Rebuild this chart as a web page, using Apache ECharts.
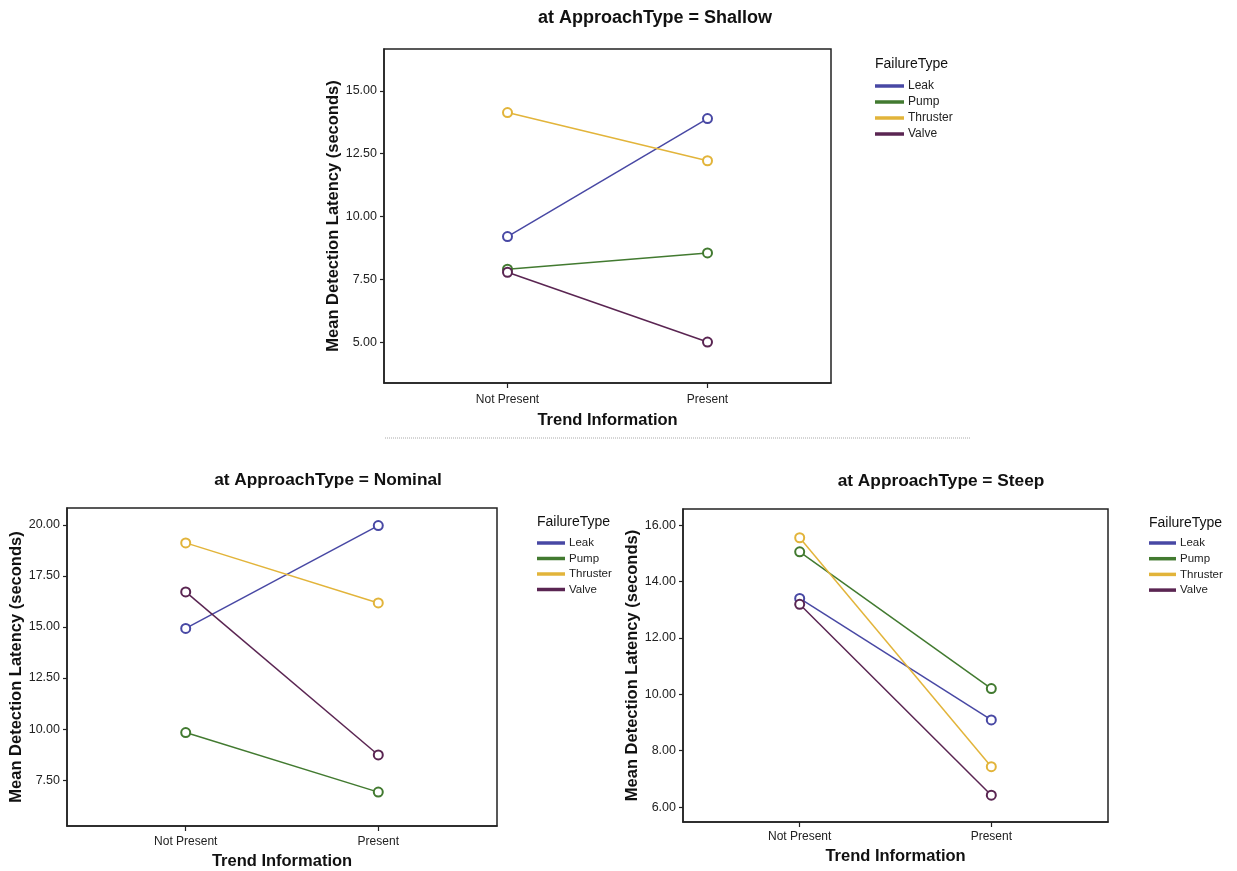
<!DOCTYPE html>
<html>
<head>
<meta charset="utf-8">
<script src="https://cdn.jsdelivr.net/npm/echarts@6/dist/echarts.min.js"></script>
<style>
html,body{margin:0;padding:0;background:#fff;}
#c{width:1237px;height:871px;}
</style>
</head>
<body>
<div id="c"></div>
<script>
const categories = ['Not Present', 'Present'];
const failureTypes = ['Leak', 'Pump', 'Thruster', 'Valve'];
const panelTitles = ['at ApproachType = Shallow', 'at ApproachType = Nominal', 'at ApproachType = Steep'];

const shallowLeak = [9.20, 13.90];
const shallowPump = [7.90, 8.55];
const shallowThruster = [14.14, 12.22];
const shallowValve = [7.78, 5.00];

const nominalLeak = [14.93, 19.97];
const nominalPump = [9.83, 6.91];
const nominalThruster = [19.12, 16.18];
const nominalValve = [16.72, 8.73];

const steepLeak = [13.40, 9.09];
const steepPump = [15.05, 10.20];
const steepThruster = [15.55, 7.43];
const steepValve = [13.19, 6.42];

const shallowTicks = [5, 7.5, 10, 12.5, 15];
const nominalTicks = [7.5, 10, 12.5, 15, 17.5, 20];
const steepTicks = [6, 8, 10, 12, 14, 16];

const FONT = '"Liberation Sans", Arial, sans-serif';
const colors = {Leak: '#4848a4', Pump: '#427a30', Thruster: '#e2b43a', Valve: '#5a2552'};

const panels = [
  {grid: {left: 384, top: 49, width: 447, height: 334}, ymin: 3.37, ymax: 16.67, ticks: shallowTicks,
   xpad: 0.6175, series: [shallowLeak, shallowPump, shallowThruster, shallowValve], labelMargin: 11, nameGap: 29},
  {grid: {left: 67, top: 508, width: 430, height: 318}, ymin: 5.25, ymax: 20.83, ticks: nominalTicks,
   xpad: 0.6165, series: [nominalLeak, nominalPump, nominalThruster, nominalValve], labelMargin: 10, nameGap: 27},
  {grid: {left: 683, top: 509, width: 425, height: 313}, ymin: 5.47, ymax: 16.57, ticks: steepTicks,
   xpad: 0.609, series: [steepLeak, steepPump, steepThruster, steepValve], labelMargin: 9, nameGap: 26}
];

const grids = [], xAxes = [], yAxes = [], series = [];
panels.forEach((p, i) => {
  grids.push(Object.assign({show: true, borderColor: '#222', borderWidth: 1.5, backgroundColor: '#fff'}, p.grid));
  xAxes.push({
    type: 'value', gridIndex: i, min: -p.xpad, max: 1 + p.xpad,
    splitLine: {show: false},
    axisLine: {show: true, onZero: false, lineStyle: {color: '#222', width: 1.5}},
    axisTick: {show: true, customValues: [0, 1], length: 5, lineStyle: {color: '#222', width: 1.2}},
    axisLabel: {customValues: [0, 1], formatter: v => categories[Math.round(v)], margin: p.labelMargin,
      color: '#222', fontSize: 12, fontFamily: FONT},
    name: 'Trend Information', nameLocation: 'middle', nameGap: p.nameGap,
    nameTextStyle: {fontSize: 16.5, fontWeight: 'bold', color: '#111', fontFamily: FONT, verticalAlign: 'top'}
  });
  yAxes.push({
    type: 'value', gridIndex: i, min: p.ymin, max: p.ymax,
    splitLine: {show: false},
    axisLine: {show: true, onZero: false, lineStyle: {color: '#222', width: 1.5}},
    axisTick: {show: true, customValues: p.ticks, length: 4, lineStyle: {color: '#222', width: 1.2}},
    axisLabel: {customValues: p.ticks, formatter: v => v.toFixed(2), margin: 7,
      color: '#222', fontSize: 12.5, fontFamily: FONT},
    name: 'Mean Detection Latency (seconds)', nameLocation: 'middle', nameGap: 42,
    nameTextStyle: {fontSize: 16.5, fontWeight: 'bold', color: '#111', fontFamily: FONT}
  });
  p.series.forEach((vals, k) => {
    const name = failureTypes[k];
    series.push({
      type: 'line', name: name, xAxisIndex: i, yAxisIndex: i,
      data: vals.map((v, j) => [j, v]),
      symbol: 'emptyCircle', symbolSize: 9,
      lineStyle: {color: colors[name], width: 1.5},
      itemStyle: {color: colors[name], borderColor: colors[name], borderWidth: 1.2},
      emphasis: {disabled: true}, animation: false
    });
  });
});

const legendBase = {
  orient: 'vertical', data: failureTypes, icon: 'rect', itemHeight: 1.5, padding: 0,
  textStyle: {color: '#222', fontFamily: FONT, lineHeight: 14},
  selectedMode: false
};
const legends = [
  Object.assign({}, legendBase, {left: 875, top: 79, itemWidth: 27, itemGap: 2, textStyle: Object.assign({}, legendBase.textStyle, {fontSize: 12})}),
  Object.assign({}, legendBase, {left: 537, top: 536, itemWidth: 26, itemGap: 1.5, textStyle: Object.assign({}, legendBase.textStyle, {fontSize: 11.5})}),
  Object.assign({}, legendBase, {left: 1149, top: 536, itemWidth: 25, itemGap: 1.7, textStyle: Object.assign({}, legendBase.textStyle, {fontSize: 11.5})})
];

const titleStyle = {fontSize: 18, fontWeight: 'bold', fill: '#111', fontFamily: FONT, textAlign: 'center', textVerticalAlign: 'middle'};
const ftStyle = {fontSize: 14, fill: '#111', fontFamily: FONT, textAlign: 'left', textVerticalAlign: 'middle'};
const graphics = [
  {type: 'text', x: 655, y: 18, style: Object.assign({text: panelTitles[0]}, titleStyle)},
  {type: 'text', x: 328, y: 480, style: Object.assign({text: panelTitles[1]}, titleStyle, {fontSize: 17.3})},
  {type: 'text', x: 941, y: 481, style: Object.assign({text: panelTitles[2]}, titleStyle, {fontSize: 17.3})},
  {type: 'text', x: 875, y: 64, style: Object.assign({text: 'FailureType'}, ftStyle)},
  {type: 'text', x: 537, y: 522, style: Object.assign({text: 'FailureType'}, ftStyle)},
  {type: 'text', x: 1149, y: 523, style: Object.assign({text: 'FailureType'}, ftStyle)},
  {type: 'line', shape: {x1: 385, y1: 438, x2: 970, y2: 438}, style: {stroke: '#aaa', lineWidth: 1, lineDash: [1, 1]}}
];

const chart = echarts.init(document.getElementById('c'), null, {renderer: 'canvas'});
chart.setOption({
  animation: false,
  backgroundColor: '#fff',
  grid: grids, xAxis: xAxes, yAxis: yAxes, series: series,
  legend: legends, graphic: graphics
});
</script>
</body>
</html>
